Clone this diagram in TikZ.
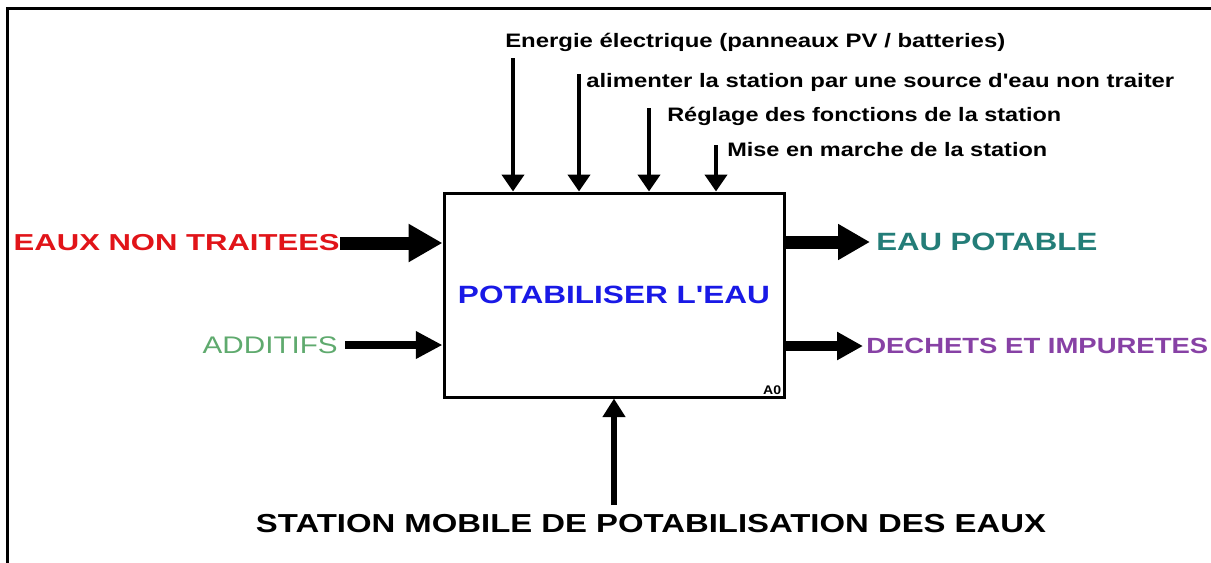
\documentclass[tikz,border=0pt]{standalone}
\usepackage{fontspec}
\setmainfont{Liberation Sans}
\usepackage{graphicx}
\usetikzlibrary{arrows.meta}
\definecolor{cred}{RGB}{225,20,25}
\definecolor{cgreen}{RGB}{95,170,110}
\definecolor{cteal}{RGB}{35,125,120}
\definecolor{cpurple}{RGB}{135,65,165}
\definecolor{cblue}{RGB}{25,25,230}
\newcommand{\fitw}[2]{\resizebox{#1}{\height}{#2}}
\tikzset{
  frameline/.style={line width=2.25pt},
  idefbox/.style={draw, line width=2.25pt, minimum width=255pt, minimum height=153pt, inner sep=0pt},
  toplbl/.style={inner sep=0pt, anchor=base west, font=\fontsize{14.6}{17}\selectfont\bfseries},
  ctrlarrow/.style={line width=3.6pt, -{Triangle[length=12.75pt, width=16.5pt]}},
  bigarrow/.style={line width=9.75pt, -{Triangle[length=25.5pt, width=27pt]}},
  medarrow/.style={line width=6pt, -{Triangle[length=20pt, width=19.5pt]}},
  outbig/.style={line width=9.75pt, -{Triangle[length=24pt, width=25.5pt]}},
  outmed/.style={line width=7.5pt, -{Triangle[length=19.5pt, width=20pt]}},
  mecharrow/.style={line width=3.9pt, -{Triangle[length=14pt, width=16.5pt]}},
}
\begin{document}
\begin{tikzpicture}[x=0.75pt, y=-0.75pt]
\useasboundingbox (0,0) rectangle (1211,562);
\fill[white] (0,0) rectangle (1211,562);
% outer frame
\draw[frameline] (7,570) -- (7,8) -- (1220,8);
% main box
\node[idefbox, font=\fontsize{18.75}{22}\selectfont\bfseries, text=cblue] (box) at (614,295)
  {\fitw{234pt}{POTABILISER L\textquotesingle EAU}};
\node[inner sep=0pt, anchor=south east, font=\fontsize{9.4}{11}\selectfont\bfseries] (a0)
  at ([shift={(-3pt,2.5pt)}]box.south east) {\fitw{13.5pt}{A0}};
% control labels
\node[toplbl] (t1) at (505,47) {\fitw{375pt}{Energie électrique (panneaux PV / batteries)}};
\node[toplbl] (t2) at (586,87) {\fitw{441pt}{alimenter la station par une source d\textquotesingle eau non traiter}};
\node[toplbl] (t3) at (667,121) {\fitw{295.5pt}{Réglage des fonctions de la station}};
\node[toplbl] (t4) at (727,156) {\fitw{240pt}{Mise en marche de la station}};
\coordinate (c1) at (513,58);
\coordinate (c2) at (579,74);
\coordinate (c3) at (649,108);
\coordinate (c4) at (716,145);
\draw[ctrlarrow] (c1) -- (c1 |- box.north);
\draw[ctrlarrow] (c2) -- (c2 |- box.north);
\draw[ctrlarrow] (c3) -- (c3 |- box.north);
\draw[ctrlarrow] (c4) -- (c4 |- box.north);
% inputs
\node[inner sep=0pt, anchor=east, text=cred, font=\fontsize{17.3}{20}\selectfont\bfseries] (eaux) at (340,243)
  {\fitw{244.5pt}{EAUX NON TRAITEES}};
\node[inner sep=0pt, anchor=east, text=cgreen, font=\fontsize{18}{21}\selectfont] (add) at (338,345)
  {\fitw{101.25pt}{ADDITIFS}};
\draw[bigarrow] (eaux.east) -- (eaux.east -| box.west);
\draw[medarrow] ([xshift=5.25pt]add.east) -- (add.east -| box.west);
% outputs
\node[inner sep=0pt, anchor=west, text=cteal, font=\fontsize{18.75}{22}\selectfont\bfseries] (eau) at (876,242)
  {\fitw{165.75pt}{EAU POTABLE}};
\node[inner sep=0pt, anchor=west, text=cpurple, font=\fontsize{16.5}{19}\selectfont\bfseries] (dech) at (866,346)
  {\fitw{256.5pt}{DECHETS ET IMPURETES}};
\draw[outbig] (box.east |- eau.west) -- ([xshift=-4.5pt]eau.west);
\draw[outmed] (box.east |- dech.west) -- ([xshift=-2.25pt]dech.west);
% mechanism
\node[inner sep=0pt, anchor=base, font=\fontsize{19.5}{23}\selectfont\bfseries] (mech) at (651,532)
  {\fitw{592.5pt}{STATION MOBILE DE POTABILISATION DES EAUX}};
\coordinate (m1) at (614,505);
\draw[mecharrow] (m1) -- (m1 |- box.south);
\end{tikzpicture}
\end{document}
